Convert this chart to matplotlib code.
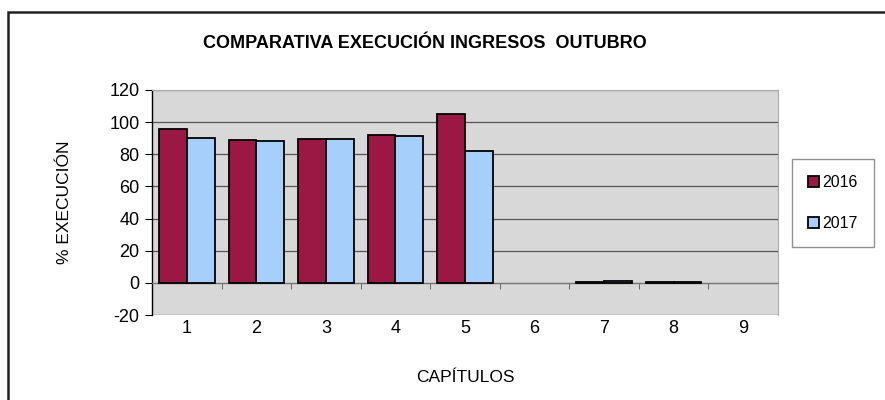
"""
Comparativa de execución de ingresos por capítulos (outubro 2016 / 2017).
"""

import numpy as np
import matplotlib
matplotlib.use('Agg')
import matplotlib.pyplot as plt
from matplotlib.patches import Rectangle

# Datos
capitulos = ['1', '2', '3', '4', '5', '6', '7', '8', '9']
exec_2016 = [95.5, 89.2, 89.6, 92.0, 105.0, 0.0, 0.5, 0.8, 0.0]
exec_2017 = [90.4, 88.3, 89.8, 91.2, 81.9, 0.0, 1.4, 0.8, 0.0]
y_ticks = [-20, 0, 20, 40, 60, 80, 100, 120]

COLOR_2016 = '#9b1744'
COLOR_2017 = '#a6d0fb'
PLOT_BG = '#d8d8d8'

plt.rcParams['font.family'] = ['Liberation Sans', 'DejaVu Sans']
plt.rcParams['axes.unicode_minus'] = False

fig = plt.figure(figsize=(8.85, 4.0), dpi=100)
fig.patch.set_facecolor('white')

# Marco exterior del gráfico
fig.patches.append(Rectangle((8 / 885, -0.02), 1.0, (400 - 12) / 400 + 0.02,
                             transform=fig.transFigure, fill=False,
                             edgecolor='#222222', linewidth=1.8))

ax = fig.add_axes([152 / 885, 85 / 400, (778 - 152) / 885, (315 - 90) / 400])
ax.set_facecolor(PLOT_BG)

x = np.arange(len(capitulos))
w = 0.4
# Excel no debuxa o bordo das barras con valor 0
lw_2016 = [1.3 if v else 0 for v in exec_2016]
lw_2017 = [1.3 if v else 0 for v in exec_2017]
ax.bar(x - w / 2, exec_2016, width=w, color=COLOR_2016, edgecolor='black',
       linewidth=lw_2016, label='2016', zorder=3)
ax.bar(x + w / 2, exec_2017, width=w, color=COLOR_2017, edgecolor='black',
       linewidth=lw_2017, label='2017', zorder=3)

ax.set_xlim(-0.5, len(capitulos) - 0.5)
ax.set_ylim(-20, 120)
ax.set_yticks(y_ticks)
ax.tick_params(axis='y', labelsize=13, length=5, direction='out', pad=4)

# Eixo X cruzando en 0, etiquetas abaixo da área
ax.spines['bottom'].set_position(('data', 0))
ax.spines['bottom'].set_color('#777777')
ax.spines['left'].set_color('black')
ax.spines['left'].set_linewidth(1.0)
ax.spines['top'].set_color('#aaaaaa')
ax.spines['right'].set_color('#aaaaaa')
ax.set_xticks(x)
ax.set_xticklabels(capitulos)
ax.set_xticks(np.arange(len(capitulos) + 1) - 0.5, minor=True)
ax.tick_params(axis='x', which='major', length=0, labelsize=13, pad=27)
ax.tick_params(axis='x', which='minor', length=4, color='#555555')

# Grella
ax.yaxis.grid(True, color='#555555', linewidth=0.9, zorder=0)
ax.set_axisbelow(True)

ax.set_ylabel('% EXECUCIÓN', fontsize=12.5)
ax.yaxis.set_label_coords(-0.128, 0.5)
fig.text(465 / 885, 1 - 378 / 400, 'CAPÍTULOS', ha='center', va='center',
         fontsize=12.5)

fig.text(425 / 885, 1 - 43 / 400, 'COMPARATIVA EXECUCIÓN INGRESOS  OUTUBRO',
         ha='center', va='center', fontsize=13, fontweight='bold')

leg = fig.legend(loc='center', bbox_to_anchor=(833 / 885, 1 - 203 / 400),
                 frameon=True, fancybox=False, edgecolor='#777777',
                 fontsize=11.5, handlelength=0.7, handleheight=0.7,
                 handletextpad=0.2, labelspacing=1.6, borderpad=1.0,
                 borderaxespad=0)
leg.get_frame().set_linewidth(1.0)

plt.savefig('out.png', dpi=100)
plt.close(fig)
